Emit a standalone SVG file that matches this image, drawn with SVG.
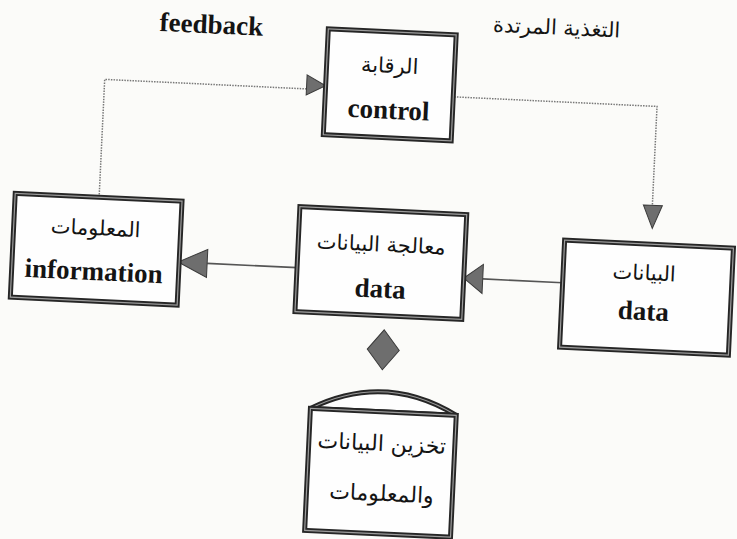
<svg xmlns="http://www.w3.org/2000/svg" width="737" height="539" viewBox="0 0 737 539">
  <style>
    .box { fill: #fefefe; stroke: #262626; stroke-width: 5; stroke-linejoin: miter; }
    .boxin { fill: none; stroke: #9c9c9c; stroke-width: 1.2; }
    .head { fill: #6e6e6e; stroke: #3a3a3a; stroke-width: 1; stroke-linejoin: miter; }
    .line { fill: none; stroke: #555; stroke-width: 1.6; }
    .dotted { fill: none; stroke: #777; stroke-width: 1.5; stroke-dasharray: 1.5 1.2; }
    .en { font-family: "Liberation Serif", "Times New Roman", serif; font-weight: bold; font-size: 27px; fill: #141414; text-anchor: middle; }
    .ar { font-family: "DejaVu Sans", "Noto Sans", sans-serif; font-size: 21px; fill: #141414; text-anchor: middle; }
    .ar.big { font-size: 22px; }
  </style>
  <rect width="737" height="539" fill="#fbfbf9"/>
  <g transform="rotate(2.7 368 270)">
    <!-- header labels -->
    <text class="en" x="200" y="41">feedback</text>
    <text class="ar" x="545" y="26" direction="rtl">التغذية المرتدة</text>

    <!-- connectors -->
    <g id="connectors">
      <!-- feedback loop: information -> control -->
      <polyline class="dotted" points="96,210 96,92 298,92"/>
      <polygon class="head" points="298,78 317,88 298,98"/>
      <!-- control -> data -->
      <polyline class="dotted" points="446,93 649,93 649,192"/>
      <polygon class="head" points="640,192 659,192 650,215"/>
      <!-- processing -> information -->
      <line class="line" x1="207" y1="271" x2="297" y2="271"/>
      <polygon class="head" points="207,257 178,271 207,285"/>
      <!-- data -> processing -->
      <line class="line" x1="483" y1="273.5" x2="563" y2="273.5"/>
      <polygon class="head" points="483,259 464,273.5 483,288"/>
      <!-- processing <-> storage -->
      <polygon class="head" points="387,329 403,349 387,369 371,349"/>
    </g>

    <!-- control -->
    <g id="control">
      <rect class="box" x="317" y="31" width="128" height="106"/>
      <rect class="boxin" x="317" y="31" width="128" height="106"/>
      <text class="ar" x="380" y="72" direction="rtl">الرقابة</text>
      <text class="en" x="381" y="118">control</text>
    </g>

    <!-- information -->
    <g id="information">
      <rect class="box" x="12" y="210" width="167" height="104"/>
      <rect class="boxin" x="12" y="210" width="167" height="104"/>
      <text class="ar" x="94" y="248" direction="rtl">المعلومات</text>
      <text class="en" x="94" y="293">information</text>
    </g>

    <!-- data processing -->
    <g id="processing">
      <rect class="box" x="297" y="210" width="167" height="105"/>
      <rect class="boxin" x="297" y="210" width="167" height="105"/>
      <text class="ar" x="380" y="251" direction="rtl">معالجة البيانات</text>
      <text class="en" x="381" y="297">data</text>
    </g>

    <!-- data input -->
    <g id="data">
      <rect class="box" x="563" y="231" width="169" height="107"/>
      <rect class="boxin" x="563" y="231" width="169" height="107"/>
      <text class="ar" x="644" y="267" direction="rtl">البيانات</text>
      <text class="en" x="645" y="307">data</text>
    </g>

    <!-- storage -->
    <g id="storage">
      <path class="box" d="M317,411 Q390,371 463,411 Z"/>
      <path class="boxin" d="M317,411 Q390,371 463,411 Z"/>
      <rect class="box" x="317" y="411" width="146" height="122"/>
      <rect class="boxin" x="317" y="411" width="146" height="122"/>
      <text class="ar big" x="390" y="450" direction="rtl">تخزين البيانات</text>
      <text class="ar big" x="392" y="500" direction="rtl">والمعلومات</text>
    </g>
  </g>
</svg>
